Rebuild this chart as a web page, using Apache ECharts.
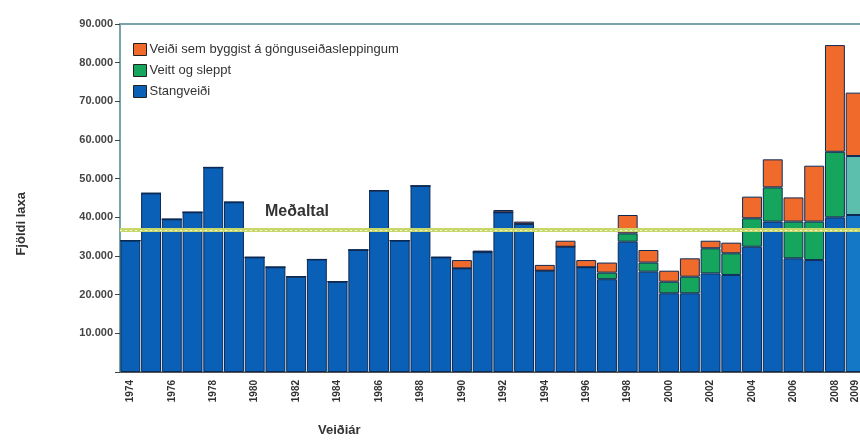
<!DOCTYPE html>
<html>
<head>
<meta charset="utf-8">
<script src="https://cdn.jsdelivr.net/npm/echarts@6/dist/echarts.min.js"></script>
<style>
  html, body { margin: 0; padding: 0; background: #fff; }
  #chart { width: 860px; height: 442px; }
</style>
</head>
<body>
<div id="chart"></div>
<script>
// Veiðiár
const years = ['1974','1975','1976','1977','1978','1979','1980','1981','1982','1983','1984','1985',
  '1986','1987','1988','1989','1990','1991','1992','1993','1994','1995','1996','1997','1998','1999',
  '2000','2001','2002','2003','2004','2005','2006','2007','2008','2009'];

// Stangveiði
const stangveidi = [34000, 46200, 39500, 41300, 52900, 43900, 29650, 27100, 24650, 29100, 23350, 31550,
  46900, 34000, 48100, 29650, 26800, 31000, 41300, 38300, 26200, 32400, 27100, 24000, 33700, 25950,
  20350, 20350, 25500, 25100, 32400, 38900, 29400, 28950, 40000, 40600];

// Veitt og sleppt
const veittSleppt = [0, 0, 0, 0, 0, 0, 0, 0, 0, 0, 0, 0,
  0, 0, 0, 0, 0, 0, 0, 0, 0, 0, 0, 1700, 2150, 2350,
  3000, 4300, 6500, 5600, 7350, 8850, 9500, 9950, 16950, 15250];

// Veiði sem byggist á gönguseiðasleppingum
const sleppingar = [0, 0, 0, 0, 0, 0, 0, 0, 0, 0, 0, 0,
  0, 0, 0, 0, 2150, 400, 600, 600, 1500, 1550, 1850, 2600, 4750, 3250,
  2850, 4750, 1950, 2750, 5600, 7250, 6250, 14450, 27600, 16400];

const medaltal = 36700;

const chart = echarts.init(document.getElementById('chart'));

const border = { borderColor: '#0d2a55', borderWidth: 1 };
const lastIdx = years.length - 1;
const font = 'Liberation Sans, Arial, sans-serif';

// 2009 is drawn in lighter shades
function colored(values, lastColor) {
  return values.map((v, i) => i === lastIdx ? { value: v, itemStyle: { color: lastColor } } : v);
}

const option = {
  animation: false,
  textStyle: { fontFamily: font },
  grid: {
    left: 120, right: -6, top: 24, bottom: 70, outerBoundsMode: 'none',
    show: true, borderColor: '#79a3a8', borderWidth: 2
  },
  legend: {
    left: 128, top: 38, orient: 'vertical', itemWidth: 13, itemHeight: 12, itemGap: 8,
    data: ['Veiði sem byggist á gönguseiðasleppingum', 'Veitt og sleppt', 'Stangveiði'],
    textStyle: { fontSize: 13, color: '#333', padding: [0, 0, 0, -2] },
    icon: 'rect', itemStyle: { borderColor: '#222', borderWidth: 1 }
  },
  xAxis: {
    type: 'category', data: years,
    axisLine: { lineStyle: { color: '#555', width: 1 } },
    axisTick: { interval: 0, length: 4, lineStyle: { color: '#555' } },
    axisLabel: {
      rotate: 90, fontSize: 10, fontWeight: 'bold', color: '#333', margin: 8,
      interval: (i) => i % 2 === 0 || i === lastIdx
    }
  },
  yAxis: {
    type: 'value', min: 0, max: 90000, interval: 10000,
    axisLine: { show: true, lineStyle: { color: '#79a3a8', width: 2 } },
    axisTick: { show: true, length: 5, lineStyle: { color: '#444' } },
    splitLine: { show: false },
    axisLabel: {
      fontSize: 11, fontWeight: 'bold', color: '#444', margin: 7,
      formatter: (v) => v === 0 ? '' : (v / 1000) + '.000'
    }
  },
  series: [
    {
      name: 'Stangveiði', type: 'bar', stack: 'a', barCategoryGap: '4%',
      itemStyle: Object.assign({ color: '#0a60b6' }, border),
      data: colored(stangveidi, '#1478c6')
    },
    {
      name: 'Veitt og sleppt', type: 'bar', stack: 'a',
      itemStyle: Object.assign({ color: '#15a55c' }, border),
      data: colored(veittSleppt, '#5cbfae')
    },
    {
      name: 'Veiði sem byggist á gönguseiðasleppingum', type: 'bar', stack: 'a',
      itemStyle: Object.assign({ color: '#f06a2c' }, border),
      data: sleppingar,
      markLine: {
        symbol: 'none', silent: true, z: 10,
        label: { show: false },
        data: [
          { yAxis: medaltal, lineStyle: { color: '#c8d76a', width: 4, type: 'solid' } },
          { yAxis: medaltal, lineStyle: { color: '#ffffff', width: 1, type: [2, 3], opacity: 0.8 } }
        ]
      }
    }
  ],
  graphic: [
    { type: 'text', left: 265, top: 204, style: { text: 'Meðaltal', fontSize: 16, fontWeight: 'bold', fill: '#333', fontFamily: font } },
    { type: 'text', left: 318, top: 424, style: { text: 'Veiðiár', fontSize: 13, fontWeight: 'bold', fill: '#333', fontFamily: font } },
    { type: 'text', left: 15, top: 192, rotation: Math.PI / 2, style: { text: 'Fjöldi laxa', fontSize: 13, fontWeight: 'bold', fill: '#333', fontFamily: font } }
  ]
};

chart.setOption(option);
</script>
</body>
</html>
